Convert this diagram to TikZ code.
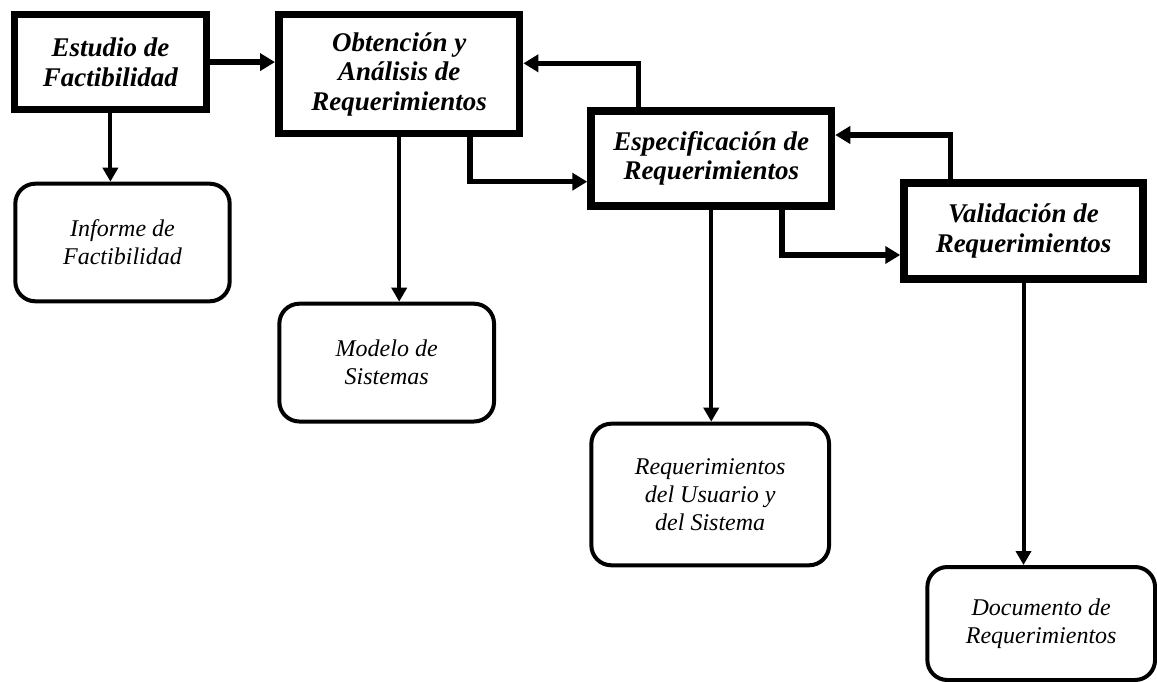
\documentclass[tikz,border=0pt]{standalone}
\usepackage{fontspec}
\setmainfont{Liberation Serif}
\usetikzlibrary{arrows.meta}
\begin{document}
\begin{tikzpicture}[x=1pt,y=-1pt,
  stage/.style={draw, line width=7.5pt, inner sep=0pt, align=center,
    font=\bfseries\itshape\fontsize{27}{29.5}\selectfont},
  product/.style={draw, line width=4pt, rounded corners=20pt, inner sep=0pt, align=center,
    font=\itshape\fontsize{24}{27.8}\selectfont},
  flowarrow/.style={line width=5.5pt, -{Triangle[length=15pt,width=17pt]}},
  prodarrow/.style={line width=4pt, -{Triangle[length=14pt,width=15pt]}}
]
\useasboundingbox (0,0) rectangle (1157,682);

% stages
\node[stage, minimum width=191.8pt, minimum height=95.2pt] (b1) at (110.4,62.1) {Estudio de\\Factibilidad};
\node[stage, minimum width=240.9pt, minimum height=119pt] (b2) at (399.2,74) {Obtención y\\Análisis de\\Requerimientos};
\node[stage, minimum width=240.5pt, minimum height=95pt] (b3) at (711.25,158.5) {Especificación de\\Requerimientos};
\node[stage, minimum width=239pt, minimum height=96.2pt] (b4) at (1023.5,230.9) {Validación de\\Requerimientos};

% products
\node[product, minimum width=214.4pt, minimum height=117.6pt] (inf) at (122.5,242.5) {Informe de\\Factibilidad};
\node[product, minimum width=214.7pt, minimum height=117.8pt] (mod) at (386.7,362.6) {Modelo de\\Sistemas};
\node[product, minimum width=237.7pt, minimum height=141.6pt] (req) at (710.2,494.5) {Requerimientos\\del Usuario y\\del Sistema};
\node[product, minimum width=227.7pt, minimum height=113pt] (doc) at (1041.2,623.5) {Documento de\\Requerimientos};

% elbow coordinates
\coordinate (c1) at (470,181.7);
\coordinate (c2) at (638.3,63.3);
\coordinate (c3) at (782,255);
\coordinate (c4) at (950.3,135);

% forward flow
\draw[flowarrow] (b1.east) -- (b1.east -| b2.west);
\draw[flowarrow] (b2.south -| c1) |- (b3.west |- c1);
\draw[flowarrow] (b3.south -| c3) |- (b4.west |- c3);

% feedback
\draw[flowarrow] (b3.north -| c2) |- (b2.east |- c2);
\draw[flowarrow] (b4.north -| c4) |- (b3.east |- c4);

% products
\draw[prodarrow] (b1.south) -- (b1.south |- inf.north);
\draw[prodarrow] (b2.south) -- (b2.south |- mod.north);
\draw[prodarrow] (b3.south) -- (b3.south |- req.north);
\draw[prodarrow] (b4.south) -- (b4.south |- doc.north);
\end{tikzpicture}
\end{document}
